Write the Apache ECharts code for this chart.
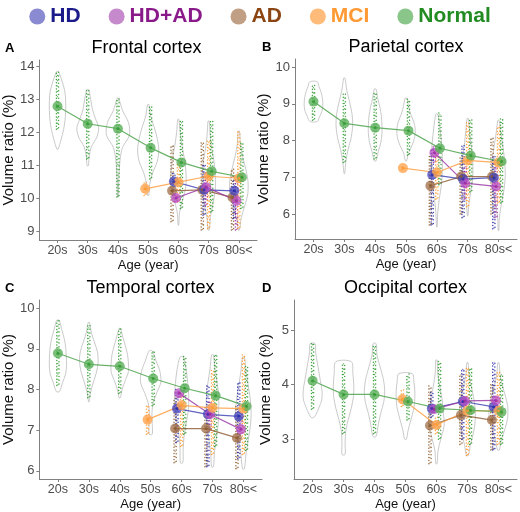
<!DOCTYPE html>
<html><head><meta charset="utf-8">
<script src="https://cdn.jsdelivr.net/npm/echarts@6/dist/echarts.min.js"></script>
<style>html,body{margin:0;padding:0;background:#fff}#c{width:520px;height:512px}</style>
</head><body><div id="c"></div>
<script>
// ---------- DATA ----------
const categories = ['20s','30s','40s','50s','60s','70s','80s<'];
const groupNames = ['HD','HD+AD','AD','MCI','Normal'];
const panelTitles = ['Frontal cortex','Parietal cortex','Temporal cortex','Occipital cortex'];
const panelLetters = ['A','B','C','D'];
const yTicksA = [9,10,11,12,13,14];
const yTicksB = [6,7,8,9,10];
const yTicksC = [6,7,8,9,10];
const yTicksD = [3,4,5];
const yRangeA = [8.75, 14.2];
const yRangeB = [5.32, 10.22];
const yRangeC = [5.8, 10.2];
const yRangeD = [2.27, 5.55];

// group means per age category (null = no subjects)
const meanNormalA = [12.8, 12.27, 12.12, 11.54, 11.1, 10.83, 10.65];
const meanMciA    = [null, null, null, 10.3, 10.5, 10.68, 10.62];
const meanHdA     = [null, null, null, null, 10.52, 10.27, 10.24];
const meanHdadA   = [null, null, null, null, 10.02, 10.35, 9.94];
const meanAdA     = [null, null, null, null, 10.24, 10.27, 10.04];

const meanNormalB = [9.06, 8.47, 8.35, 8.27, 7.79, 7.59, 7.43];
const meanMciB    = [null, null, null, 7.25, 7.13, 7.46, 7.40];
const meanHdB     = [null, null, null, null, 7.07, 6.95, 6.99];
const meanHdadB   = [null, null, null, null, 7.67, 6.84, 6.75];
const meanAdB     = [null, null, null, null, 6.77, 7.02, 7.02];

const meanNormalC = [8.89, 8.62, 8.57, 8.27, 8.03, 7.85, 7.59];
const meanMciC    = [null, null, null, 7.26, 7.61, 7.55, 7.53];
const meanHdC     = [null, null, null, null, 7.53, 7.39, 7.34];
const meanHdadC   = [null, null, null, null, 7.91, 7.39, 7.02];
const meanAdC     = [null, null, null, null, 7.04, 7.04, 6.81];

const meanNormalD = [4.07, 3.82, 3.82, 3.69, 3.56, 3.53, 3.50];
const meanMciD    = [null, null, null, 3.73, 3.26, 3.52, 3.52];
const meanHdD     = [null, null, null, null, 3.56, 3.69, 3.59];
const meanHdadD   = [null, null, null, null, 3.55, 3.70, 3.71];
const meanAdD     = [null, null, null, null, 3.25, 3.44, 3.35];

// individual-subject value ranges [low, high] per age category
const rangeNormalA = [[12.1,13.85],[11.2,13.3],[10.05,13.05],[10.6,12.85],[9.7,12.4],[9.6,12.35],[9.7,11.7]];
const rangeMciA    = [null,null,null,[10.1,10.5],[9.9,11.1],[9.1,11.8],[9.1,12.05]];
const rangeHdA     = [null,null,null,null,[10.1,10.8],[9.5,11.1],[9.4,10.6]];
const rangeHdadA   = [null,null,null,null,[9.9,10.1],[9.8,10.8],[9.05,10.6]];
const rangeAdA     = [null,null,null,null,[9.3,11.6],[9.05,11.7],[9.05,10.9]];

const rangeNormalB = [[8.55,9.55],[7.4,9.3],[7.5,9.3],[7.6,9.15],[6.8,8.75],[6.6,8.6],[6.3,8.6]];
const rangeMciB    = [null,null,null,[7.2,7.3],[6.4,7.8],[6.2,8.5],[6.3,8.4]];
const rangeHdB     = [null,null,null,null,[5.7,7.8],[5.9,7.9],[5.6,7.6]];
const rangeHdadB   = [null,null,null,null,[7.4,7.9],[6.4,7.3],[5.9,7.3]];
const rangeAdB     = [null,null,null,null,[5.7,7.6],[6.0,7.6],[6.0,8.1]];

const rangeNormalC = [[8.1,9.7],[7.8,9.6],[7.9,9.5],[7.6,8.95],[6.9,8.85],[6.6,8.85],[6.5,8.6]];
const rangeMciC    = [null,null,null,[6.9,7.6],[6.6,7.9],[6.4,8.5],[6.4,8.85]];
const rangeHdC     = [null,null,null,null,[6.7,8.0],[6.1,8.1],[6.3,8.2]];
const rangeHdadC   = [null,null,null,null,[7.8,8.0],[7.0,7.7],[6.9,7.4]];
const rangeAdC     = [null,null,null,null,[6.2,7.8],[6.1,7.6],[6.05,7.6]];

const rangeNormalD = [[3.55,4.75],[3.1,4.4],[3.1,4.75],[3.35,4.2],[3.0,4.45],[2.9,4.3],[2.9,4.2]];
const rangeMciD    = [null,null,null,[3.6,3.9],[3.1,3.4],[2.7,4.3],[2.9,4.25]];
const rangeHdD     = [null,null,null,null,[3.4,3.9],[3.0,4.3],[2.8,4.4]];
const rangeHdadD   = [null,null,null,null,[3.5,3.6],[3.6,3.8],[3.6,3.8]];
const rangeAdD     = [null,null,null,null,[2.55,4.0],[2.9,4.2],[2.8,4.0]];

// violins: [min, max, relative half-width density at 9 evenly spaced levels]
const violinA = [
  [11.5,13.85,[0.02,0.12,0.2,0.25,0.27,0.27,0.24,0.15,0.03]],
  [11.0,13.3,[0.02,0.05,0.12,0.3,0.36,0.25,0.15,0.1,0.03]],
  [10.05,13.05,[0.01,0.02,0.04,0.07,0.15,0.38,0.35,0.15,0.02]],
  [10.1,12.85,[0.02,0.05,0.15,0.3,0.35,0.3,0.2,0.08,0.02]],
  [9.2,12.4,[0.01,0.04,0.15,0.25,0.25,0.2,0.12,0.06,0.02]],
  [9.05,12.35,[0.02,0.06,0.15,0.22,0.22,0.18,0.1,0.05,0.02]],
  [9.05,12.05,[0.02,0.08,0.2,0.3,0.3,0.22,0.12,0.05,0.02]]
];
const violinB = [
  [8.52,9.6,[0.12,0.2,0.27,0.3,0.3,0.28,0.24,0.18,0.12]],
  [7.1,9.7,[0.01,0.05,0.12,0.22,0.27,0.25,0.17,0.08,0.02]],
  [7.45,9.4,[0.03,0.1,0.18,0.22,0.22,0.2,0.15,0.08,0.03]],
  [7.45,9.15,[0.02,0.08,0.2,0.28,0.3,0.25,0.15,0.08,0.03]],
  [5.65,8.72,[0.01,0.03,0.08,0.15,0.18,0.18,0.15,0.1,0.03]],
  [5.95,8.6,[0.01,0.04,0.1,0.16,0.17,0.15,0.1,0.06,0.02]],
  [5.55,8.55,[0.01,0.03,0.1,0.18,0.22,0.2,0.15,0.08,0.02]]
];
const violinC = [
  [7.95,9.7,[0.05,0.15,0.25,0.28,0.27,0.25,0.2,0.12,0.04]],
  [7.7,9.65,[0.01,0.06,0.15,0.25,0.3,0.28,0.18,0.08,0.02]],
  [7.8,9.5,[0.02,0.08,0.18,0.28,0.28,0.25,0.18,0.1,0.02]],
  [6.9,8.95,[0.05,0.05,0.04,0.08,0.2,0.33,0.3,0.18,0.05]],
  [6.2,8.8,[0.04,0.05,0.08,0.15,0.22,0.23,0.2,0.15,0.05]],
  [6.1,8.85,[0.03,0.06,0.12,0.18,0.2,0.2,0.15,0.08,0.03]],
  [6.05,8.8,[0.03,0.08,0.15,0.22,0.25,0.22,0.15,0.08,0.03]]
];
const violinD = [
  [3.4,4.75,[0.05,0.2,0.3,0.3,0.25,0.2,0.15,0.1,0.08]],
  [2.72,4.42,[0.05,0.05,0.07,0.15,0.25,0.32,0.33,0.3,0.25]],
  [3.05,4.75,[0.05,0.12,0.2,0.3,0.33,0.28,0.18,0.08,0.05]],
  [3.0,4.2,[0.03,0.08,0.15,0.22,0.28,0.3,0.3,0.27,0.22]],
  [2.55,4.45,[0.02,0.05,0.15,0.25,0.22,0.18,0.1,0.04,0.02]],
  [2.7,4.4,[0.03,0.1,0.2,0.25,0.25,0.2,0.12,0.05,0.02]],
  [2.8,4.4,[0.03,0.1,0.22,0.3,0.3,0.22,0.12,0.05,0.02]]
];

// ---------- STYLE / LAYOUT ----------
const style = {
  'HD':     {dot:'#2a2aa8', mean:'rgba(70,70,190,0.75)',  line:'rgba(60,60,180,0.8)',  text:'#1a1a8a', icon:'rgba(60,60,180,0.6)'},
  'HD+AD':  {dot:'#9a2aa0', mean:'rgba(185,80,195,0.75)', line:'rgba(150,50,160,0.8)', text:'#8a1a8a', icon:'rgba(160,60,170,0.6)'},
  'AD':     {dot:'#8b5a2b', mean:'rgba(160,110,70,0.75)', line:'rgba(140,90,50,0.8)',  text:'#8b4513', icon:'rgba(150,95,50,0.6)'},
  'MCI':    {dot:'#ff9a30', mean:'rgba(255,165,80,0.8)',  line:'rgba(255,160,70,0.85)',text:'#ff9933', icon:'rgba(255,150,50,0.65)'},
  'Normal': {dot:'#2e9a2e', mean:'rgba(90,175,90,0.8)',   line:'rgba(90,170,90,0.9)',  text:'#228b22', icon:'rgba(60,160,60,0.6)'}
};
function offset(g, i){
  if (i <= 2) return 0;
  if (i === 3) return g === 'MCI' ? -0.1 : 0.08;
  return {'AD':-0.21,'HD':-0.15,'HD+AD':-0.08,'MCI':0.0,'Normal':0.1}[g];
}
const grids = [
  {left:36, top:60, width:221, height:180},
  {left:295, top:59, width:222, height:180},
  {left:39, top:300, width:223, height:181},
  {left:294, top:300, width:223, height:180}
];
const panels = [
  {ticks:yTicksA, range:yRangeA, violin:violinA,
   means:{'Normal':meanNormalA,'MCI':meanMciA,'HD':meanHdA,'HD+AD':meanHdadA,'AD':meanAdA},
   ranges:{'Normal':rangeNormalA,'MCI':rangeMciA,'HD':rangeHdA,'HD+AD':rangeHdadA,'AD':rangeAdA}},
  {ticks:yTicksB, range:yRangeB, violin:violinB,
   means:{'Normal':meanNormalB,'MCI':meanMciB,'HD':meanHdB,'HD+AD':meanHdadB,'AD':meanAdB},
   ranges:{'Normal':rangeNormalB,'MCI':rangeMciB,'HD':rangeHdB,'HD+AD':rangeHdadB,'AD':rangeAdB}},
  {ticks:yTicksC, range:yRangeC, violin:violinC,
   means:{'Normal':meanNormalC,'MCI':meanMciC,'HD':meanHdC,'HD+AD':meanHdadC,'AD':meanAdC},
   ranges:{'Normal':rangeNormalC,'MCI':rangeMciC,'HD':rangeHdC,'HD+AD':rangeHdadC,'AD':rangeAdC}},
  {ticks:yTicksD, range:yRangeD, violin:violinD,
   means:{'Normal':meanNormalD,'MCI':meanMciD,'HD':meanHdD,'HD+AD':meanHdadD,'AD':meanAdD},
   ranges:{'Normal':rangeNormalD,'MCI':rangeMciD,'HD':rangeHdD,'HD+AD':rangeHdadD,'AD':rangeAdD}}
];
const FONT = 'Liberation Sans, Arial, sans-serif';
const catIdx = categories.map((c,i)=>i);
const order = ['AD','HD','HD+AD','MCI','Normal'];

const xAxes = [], yAxes = [], series = [], graphics = [];
panels.forEach((p, k) => {
  xAxes.push({
    type:'value', gridIndex:k, min:-0.6, max:6.6,
    axisLine:{show:true, onZero:false, lineStyle:{color:'#808080', width:1}},
    axisTick:{show:true, customValues:catIdx, length:3, lineStyle:{color:'#808080'}},
    axisLabel:{customValues:catIdx, formatter:v=>categories[Math.round(v)], fontSize:12.5, color:'#4d4d4d', margin:4, fontFamily:FONT},
    splitLine:{show:false},
    name:'Age (year)', nameLocation:'middle', nameGap:19,
    nameTextStyle:{fontSize:13, color:'#111', fontFamily:FONT}
  });
  yAxes.push({
    type:'value', gridIndex:k, min:p.range[0], max:p.range[1],
    axisLine:{show:true, onZero:false, lineStyle:{color:'#808080', width:1}},
    axisTick:{show:true, customValues:p.ticks, length:3, lineStyle:{color:'#808080'}},
    axisLabel:{customValues:p.ticks, fontSize:13, color:'#4d4d4d', margin:5, fontFamily:FONT},
    splitLine:{show:false},
    name:'Volume ratio (%)', nameLocation:'middle', nameGap:21,
    nameTextStyle:{fontSize:15, color:'#111', fontFamily:FONT}
  });
  // violins
  series.push({
    type:'custom', xAxisIndex:k, yAxisIndex:k, z:1, silent:true,
    data: p.violin.map((v,i)=>[i, v[0], v[1]].concat(v[2])),
    renderItem:(params, api)=>{
      const i = api.value(0), lo = api.value(1), hi = api.value(2);
      const w = []; for (let j=0;j<9;j++) w.push(api.value(3+j));
      const pts = [];
      for (let j=0;j<9;j++){ const y = lo + (hi-lo)*j/8; pts.push(api.coord([i - w[j], y])); }
      for (let j=8;j>=0;j--){ const y = lo + (hi-lo)*j/8; pts.push(api.coord([i + w[j], y])); }
      return {type:'polygon', shape:{points:pts, smooth:0.3}, style:{fill:'none', stroke:'#bdbdbd', lineWidth:0.8}};
    }
  });
  // individual points as dense jittered strips of dots
  order.forEach(g => {
    const data = [];
    p.ranges[g].forEach((r,i)=>{ if (r) data.push([i + offset(g,i), r[0], r[1]]); });
    series.push({
      type:'custom', name:g, xAxisIndex:k, yAxisIndex:k, z:2, silent:true,
      itemStyle:{color:style[g].icon},
      data,
      renderItem:(params, api)=>{
        const x = api.value(0), lo = api.value(1), hi = api.value(2);
        const a = api.coord([x, lo]), b = api.coord([x, hi]);
        const c = style[g].dot;
        return {type:'group', children:[
          {type:'line', shape:{x1:a[0]-1.1, y1:a[1], x2:b[0]-1.1, y2:b[1]}, style:{stroke:c, lineWidth:1.5, lineCap:'round', lineDash:[0.01,3.1], opacity:0.9}},
          {type:'line', shape:{x1:a[0]+1.1, y1:a[1]-1.5, x2:b[0]+1.1, y2:b[1]}, style:{stroke:c, lineWidth:1.5, lineCap:'round', lineDash:[0.01,3.7], opacity:0.9}},
          {type:'line', shape:{x1:a[0], y1:a[1]-0.8, x2:b[0], y2:b[1]}, style:{stroke:c, lineWidth:1.3, lineCap:'round', lineDash:[0.01,5.3], opacity:0.8}}
        ]};
      }
    });
  });
  // mean lines and points
  order.forEach(g => {
    const data = [];
    p.means[g].forEach((m,i)=>{ if (m !== null) data.push([i + offset(g,i), m]); });
    series.push({
      type:'line', name:g, xAxisIndex:k, yAxisIndex:k, z:3, silent:true,
      data, symbol:'circle', symbolSize:10, showSymbol:true,
      lineStyle:{color:style[g].line, width:1.2},
      itemStyle:{color:style[g].mean, borderWidth:0},
      emphasis:{disabled:true}
    });
    series.push({
      type:'scatter', name:g, xAxisIndex:k, yAxisIndex:k, z:4, silent:true,
      data, symbol:'circle', symbolSize:3,
      itemStyle:{color:style[g].dot, opacity:0.8}
    });
  });
  const gr = grids[k];
  graphics.push({type:'text', x:gr.left + gr.width/2, y:gr.top - 12,
    style:{text:panelTitles[k], fontSize:18, fill:'#000', fontFamily:FONT, textAlign:'center', textVerticalAlign:'middle'}});
  graphics.push({type:'text', x: k%2===0 ? 5 : 262, y: gr.top - 12,
    style:{text:panelLetters[k], fontSize:13, fontWeight:'bold', fill:'#000', fontFamily:FONT, textVerticalAlign:'middle'}});
});

const chart = echarts.init(document.getElementById('c'), null, {renderer:'canvas'});
chart.setOption({
  animation:false,
  legend:{
    top:1, left:'center', itemGap:28, itemWidth:16, itemHeight:16, selectedMode:false,
    data: groupNames.map(g=>({name:g, icon:'circle', itemStyle:{color:style[g].icon, borderWidth:0},
      textStyle:{color:style[g].text, fontSize:21, fontWeight:'bold', fontFamily:FONT}}))
  },
  grid: grids,
  xAxis: xAxes,
  yAxis: yAxes,
  series,
  graphic: graphics
});
</script></body></html>
